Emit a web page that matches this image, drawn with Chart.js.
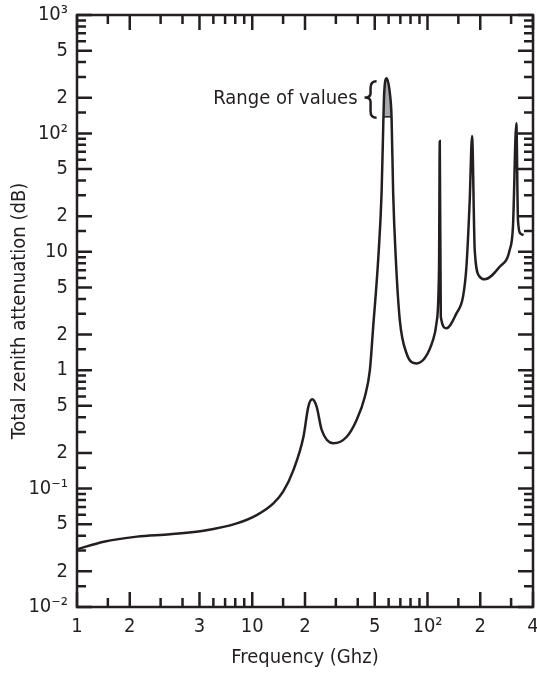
<!DOCTYPE html>
<html><head><meta charset="utf-8">
<script src="https://cdn.jsdelivr.net/npm/chart.js@4/dist/chart.umd.min.js"></script>
<style>html,body{margin:0;padding:0;background:#fff}#wrap{width:537px;height:673px}</style>
</head><body><div id="wrap"><canvas id="c" width="537" height="673"></canvas></div>
<script>
const FONT = "'DejaVu Sans Condensed','Liberation Sans Narrow',sans-serif";
const INK = '#231f20';

const frequencyGHz = [1.0, 1.42, 2.2, 3.4, 5.27, 8.16, 10.6, 13.2, 15.0, 17.2, 19.6, 20.9, 22.0, 23.3, 24.9, 29.0, 34.6, 39.4, 43.9, 46.9, 49.0, 52.3, 54.7, 55.9, 56.6, 58.4, 61.0, 62.35, 63.7, 66.0, 69.5, 75.9, 86.5, 107.6, 112.5, 116.4, 117.5, 119.1, 128.3, 146.3, 159.5, 166.8, 174.2, 179.6, 186.0, 198.6, 212.1, 258.2, 294.4, 307.4, 321.4, 328.3, 338.8, 353.8];
const attenuationDB = [0.0307, 0.0356, 0.0393, 0.0411, 0.0441, 0.0509, 0.0598, 0.0751, 0.0942, 0.144, 0.274, 0.492, 0.568, 0.492, 0.313, 0.241, 0.274, 0.380, 0.597, 1.0, 2.33, 8.53, 31.2, 114, 218, 292, 218, 138, 31.2, 8.53, 2.65, 1.39, 1.14, 1.80, 2.49, 7.48, 86.2, 2.83, 2.26, 3.02, 4.18, 7.48, 27.4, 95.1, 10.35, 6.16, 5.86, 7.48, 10.35, 16.3, 122, 18.6, 14.3, 13.9];

// "Range of values" cap of the 60 GHz peak
const rangeFreq = [56.05, 56.6, 58.4, 61.0, 62.35];
const rangeAtten = [138, 218, 292, 218, 138];
const rangeLow = 138;
const rangeHigh = 292;
const rangeLabel = 'Range of values';

const xTickValues = [1, 2, 5, 10, 20, 50, 100, 200, 400];
const xTickLabels = ['1', '2', '3', '10', '2', '5', '10²', '2', '4'];
const xMinorTicks = [1.5, 3, 4, 6, 7, 8, 9, 15, 30, 40, 60, 70, 80, 90, 150, 300];

const yTickValues = [0.01, 0.02, 0.05, 0.1, 0.2, 0.5, 1, 2, 5, 10, 20, 50, 100, 200, 500, 1000];
const yTickLabels = ['10⁻²', '2', '5', '10⁻¹', '2', '5', '1', '2', '5', '10', '2', '5', '10²', '2', '5', '10³'];
const yMinorTicks = [0.015, 0.03, 0.04, 0.06, 0.07, 0.08, 0.09,
                     0.15, 0.3, 0.4, 0.6, 0.7, 0.8, 0.9,
                     1.5, 3, 4, 6, 7, 8, 9,
                     15, 30, 40, 60, 70, 80, 90,
                     150, 300, 400, 600, 700, 800, 900];

const frameTicks = {
  id: 'frameTicks',
  afterDatasetsDraw(chart) {
    const {ctx, chartArea: a, scales: {x, y}} = chart;
    ctx.save();
    ctx.strokeStyle = INK;
    ctx.lineWidth = 2.5;
    ctx.lineCap = 'butt';
    const MAJ = 15, MIN = 9;
    const drawX = (v, len) => {
      const px = x.getPixelForValue(v);
      ctx.beginPath();
      ctx.moveTo(px, a.bottom); ctx.lineTo(px, a.bottom - len);
      ctx.moveTo(px, a.top); ctx.lineTo(px, a.top + len);
      ctx.stroke();
    };
    const drawY = (v, len) => {
      const py = y.getPixelForValue(v);
      ctx.beginPath();
      ctx.moveTo(a.left, py); ctx.lineTo(a.left + len, py);
      ctx.moveTo(a.right, py); ctx.lineTo(a.right - len, py);
      ctx.stroke();
    };
    xTickValues.forEach(v => drawX(v, MAJ));
    xMinorTicks.forEach(v => drawX(v, MIN));
    yTickValues.forEach(v => drawY(v, MAJ));
    yMinorTicks.forEach(v => drawY(v, MIN));
    ctx.strokeRect(a.left, a.top, a.right - a.left, a.bottom - a.top);

    // annotation
    const peakX = x.getPixelForValue(rangeFreq[2]);
    const yHi = y.getPixelForValue(rangeHigh);
    const yLo = y.getPixelForValue(rangeLow);
    const yMid = (yHi + yLo) / 2;
    ctx.fillStyle = INK;
    ctx.font = '20px ' + FONT;
    ctx.textAlign = 'right';
    ctx.textBaseline = 'middle';
    ctx.fillText(rangeLabel, peakX - 29, yMid + 1);
    const xl = peakX - 22, xm = peakX - 16, xr = peakX - 10;
    const yT = yHi + 3, yB = yLo + 1, h = yB - yT;
    ctx.lineWidth = 2.5;
    ctx.beginPath();
    ctx.moveTo(xr, yT);
    ctx.quadraticCurveTo(xm, yT, xm, yT + h * 0.18);
    ctx.lineTo(xm, yMid - h * 0.12);
    ctx.quadraticCurveTo(xm, yMid, xl, yMid);
    ctx.quadraticCurveTo(xm, yMid, xm, yMid + h * 0.12);
    ctx.lineTo(xm, yB - h * 0.18);
    ctx.quadraticCurveTo(xm, yB, xr, yB);
    ctx.stroke();
    ctx.restore();
  }
};

new Chart(document.getElementById('c'), {
  type: 'line',
  data: {
    datasets: [
      {
        data: frequencyGHz.map((f, i) => ({x: f, y: attenuationDB[i]})),
        borderColor: INK, borderWidth: 2.5, pointRadius: 0,
        cubicInterpolationMode: 'monotone', fill: false
      },
      {
        data: [{x: rangeFreq[0], y: rangeLow}, {x: rangeFreq[rangeFreq.length - 1], y: rangeLow}],
        borderColor: INK, borderWidth: 1.5, pointRadius: 0, fill: false
      },
      {
        data: rangeFreq.map((f, i) => ({x: f, y: rangeAtten[i]})),
        borderWidth: 0, borderColor: 'rgba(0,0,0,0)', pointRadius: 0,
        cubicInterpolationMode: 'monotone',
        backgroundColor: '#a7a9ac',
        fill: {target: {value: rangeLow}, above: '#a7a9ac', below: '#a7a9ac'}
      }
    ]
  },
  options: {
    responsive: false,
    devicePixelRatio: 1,
    animation: false,
    layout: {padding: {left: 0, top: 15, right: 4, bottom: 0}},
    plugins: {legend: {display: false}, tooltip: {enabled: false}},
    scales: {
      x: {
        type: 'logarithmic', min: 1, max: 400, position: 'bottom',
        grid: {display: false, drawTicks: false}, border: {display: false},
        afterBuildTicks: s => { s.ticks = xTickValues.map(v => ({value: v})); },
        afterFit: s => { s.height = 66; s.paddingLeft = 0; s.paddingRight = 0; },
        ticks: {autoSkip: false, maxRotation: 0, padding: 8, color: INK,
                font: {family: FONT, size: 20},
                callback: (v, i) => xTickLabels[i]},
        title: {display: true, text: 'Frequency (Ghz)', color: INK,
                font: {family: FONT, size: 20}, padding: {top: 0, bottom: 3}}
      },
      y: {
        type: 'logarithmic', min: 0.01, max: 1000, position: 'left',
        grid: {display: false, drawTicks: false}, border: {display: false},
        afterBuildTicks: s => { s.ticks = yTickValues.map(v => ({value: v})); },
        afterFit: s => { s.width = 77; s.paddingTop = 0; s.paddingBottom = 0; },
        ticks: {autoSkip: false, padding: 9, color: INK,
                font: {family: FONT, size: 20},
                callback: (v, i) => yTickLabels[i]},
        title: {display: true, text: 'Total zenith attenuation (dB)', color: INK,
                font: {family: FONT, size: 20}, padding: {top: 8, bottom: 0}}
      }
    }
  },
  plugins: [frameTicks]
});
</script>
</body></html>
